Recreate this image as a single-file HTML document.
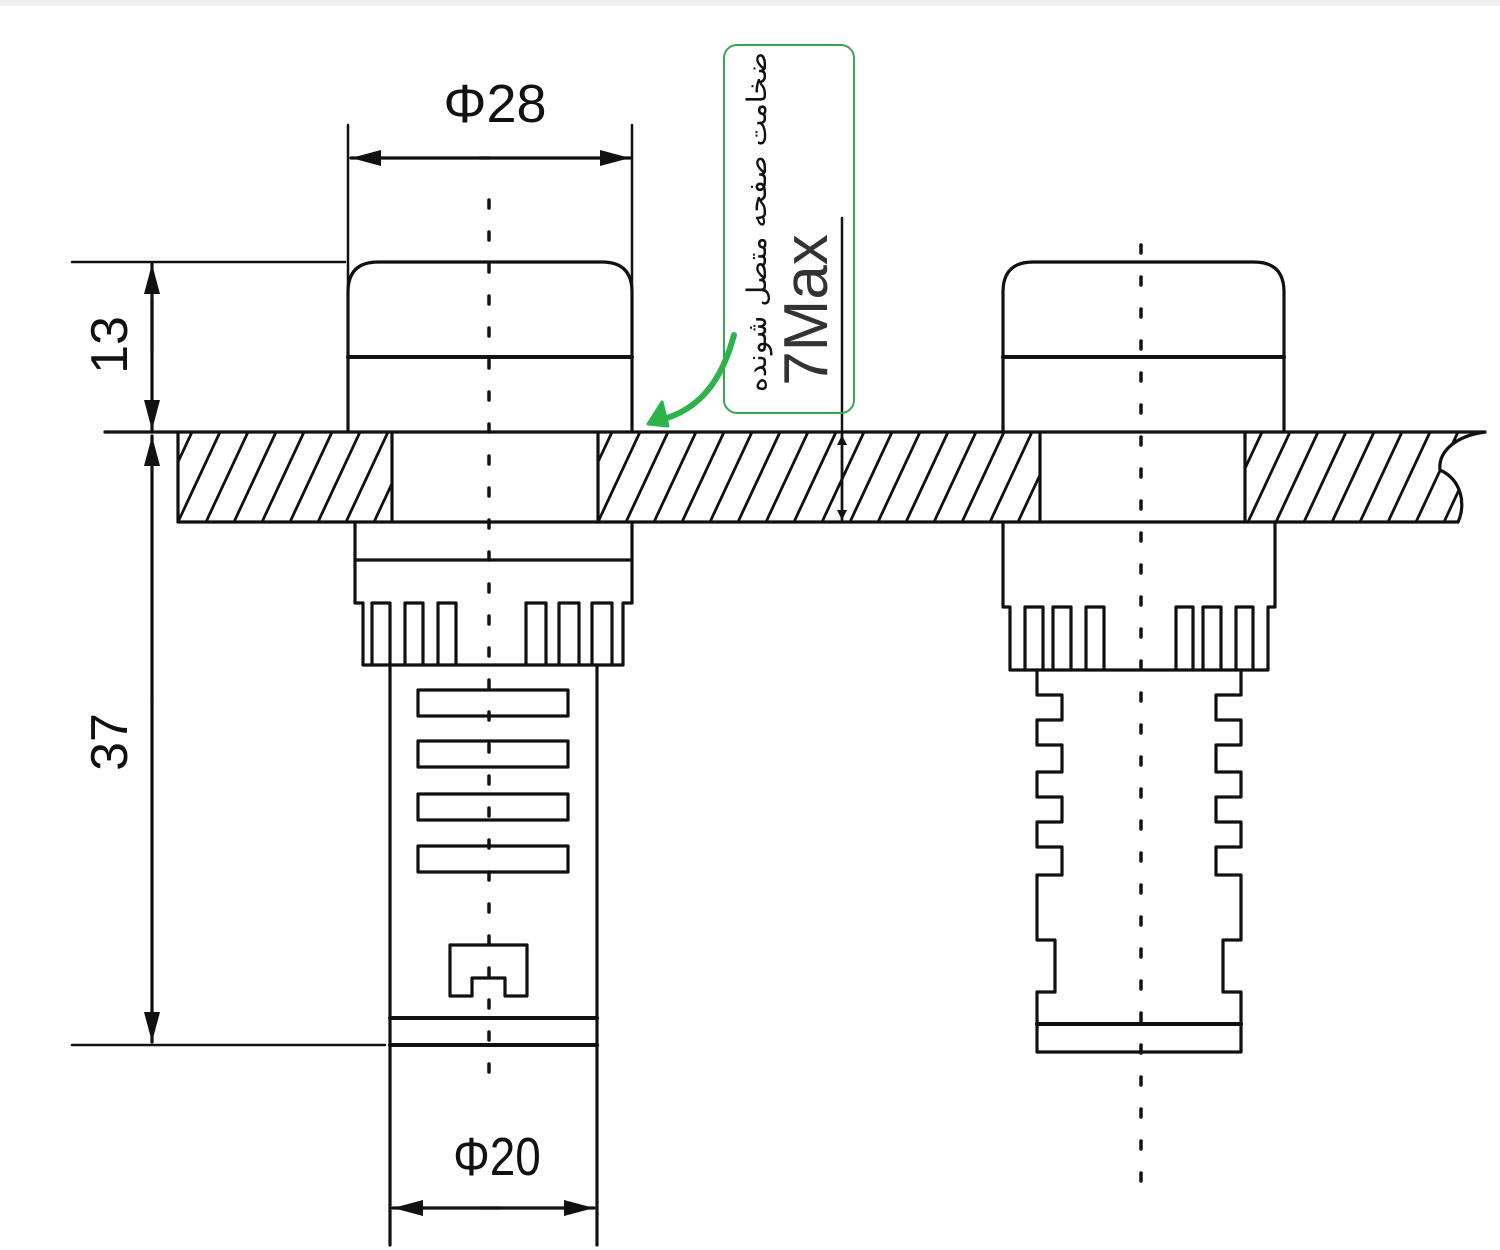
<!DOCTYPE html>
<html><head><meta charset="utf-8">
<style>
html,body{margin:0;padding:0;background:#fff;}
svg{display:block;}
</style></head>
<body>
<svg width="1500" height="1250" viewBox="0 0 1500 1250" xmlns="http://www.w3.org/2000/svg">
<defs>
<marker id="ah" viewBox="0 0 30 16" refX="30" refY="8" markerWidth="30" markerHeight="16" markerUnits="userSpaceOnUse" orient="auto">
<path d="M0,0 L30,8 L0,16 Z" fill="#111"/>
</marker>
<marker id="ahs" viewBox="0 0 10 10" refX="10" refY="5" markerWidth="14" markerHeight="10" markerUnits="userSpaceOnUse" orient="auto">
<path d="M0,0 L10,5 L0,10 Z" fill="#111"/>
</marker>
<clipPath id="hc">
<rect x="178" y="432" width="214" height="90"/>
<rect x="598" y="432" width="442" height="90"/>
<path d="M1245,432 L1485,432 C1455,436 1438,452 1440,470 C1462,480 1466,505 1458,522 L1245,522 Z"/>
</clipPath>
</defs>
<rect x="0" y="0" width="1500" height="6" fill="#f0f0f0"/>
<g stroke="#111" stroke-width="3.2" fill="none" stroke-linecap="round" stroke-linejoin="round">
<g clip-path="url(#hc)" stroke-width="2.8">
<line x1="150" y1="522" x2="192" y2="432"/><line x1="178" y1="522" x2="220" y2="432"/><line x1="206" y1="522" x2="248" y2="432"/><line x1="234" y1="522" x2="276" y2="432"/><line x1="262" y1="522" x2="304" y2="432"/><line x1="290" y1="522" x2="332" y2="432"/><line x1="318" y1="522" x2="360" y2="432"/><line x1="346" y1="522" x2="388" y2="432"/><line x1="374" y1="522" x2="416" y2="432"/>
<line x1="570" y1="522" x2="612" y2="432"/><line x1="598" y1="522" x2="640" y2="432"/><line x1="626" y1="522" x2="668" y2="432"/><line x1="654" y1="522" x2="696" y2="432"/><line x1="682" y1="522" x2="724" y2="432"/><line x1="710" y1="522" x2="752" y2="432"/><line x1="738" y1="522" x2="780" y2="432"/><line x1="766" y1="522" x2="808" y2="432"/><line x1="794" y1="522" x2="836" y2="432"/><line x1="822" y1="522" x2="864" y2="432"/><line x1="850" y1="522" x2="892" y2="432"/><line x1="878" y1="522" x2="920" y2="432"/><line x1="906" y1="522" x2="948" y2="432"/><line x1="934" y1="522" x2="976" y2="432"/><line x1="962" y1="522" x2="1004" y2="432"/><line x1="990" y1="522" x2="1032" y2="432"/><line x1="1018" y1="522" x2="1060" y2="432"/>
<line x1="1220" y1="522" x2="1262" y2="432"/><line x1="1248" y1="522" x2="1290" y2="432"/><line x1="1276" y1="522" x2="1318" y2="432"/><line x1="1304" y1="522" x2="1346" y2="432"/><line x1="1332" y1="522" x2="1374" y2="432"/><line x1="1360" y1="522" x2="1402" y2="432"/><line x1="1388" y1="522" x2="1430" y2="432"/><line x1="1416" y1="522" x2="1458" y2="432"/><line x1="1444" y1="522" x2="1486" y2="432"/>
</g>
<line x1="105" y1="432" x2="1485" y2="432"/>
<line x1="178" y1="522" x2="1458" y2="522"/>
<line x1="178" y1="432" x2="178" y2="522"/>
<path d="M1485,432 C1455,436 1438,452 1440,470 C1462,480 1466,505 1458,522"/>
<line x1="392" y1="432" x2="392" y2="522"/><line x1="598" y1="432" x2="598" y2="522"/>
<line x1="1040" y1="432" x2="1040" y2="522"/><line x1="1245" y1="432" x2="1245" y2="522"/>

<path d="M348,432 L348,292 Q348,262 378,262 L602,262 Q632,262 632,292 L632,432"/>
<line x1="348" y1="357" x2="632" y2="357" stroke-width="4"/>
<path d="M355,522 L355,603 L363,603 L363,665 L623,665 L623,603 L632,603 L632,522"/>
<line x1="355" y1="560" x2="632" y2="560"/>
<path d="M372,665 L372,603 L390,603 L390,665 M405,665 L405,603 L423,603 L423,665 M438,665 L438,603 L456,603 L456,665 M526,665 L526,603 L546,603 L546,665 M559,665 L559,603 L579,603 L579,665 M592,665 L592,603 L612,603 L612,665"/>
<line x1="390" y1="665" x2="390" y2="1245"/><line x1="597" y1="665" x2="597" y2="1245"/>
<rect x="418" y="690" width="150" height="26"/>
<rect x="418" y="741" width="150" height="26"/>
<rect x="418" y="794" width="150" height="26"/>
<rect x="418" y="846" width="150" height="26"/>
<path d="M450,996 L450,945 L527,945 L527,996 L505,996 L505,978 L472,978 L472,996 Z"/>
<line x1="390" y1="1018" x2="597" y2="1018" stroke-width="4"/>
<line x1="390" y1="1045" x2="597" y2="1045" stroke-width="4"/>

<path d="M1003,432 L1003,292 Q1003,262 1033,262 L1254,262 Q1284,262 1284,292 L1284,432"/>
<line x1="1003" y1="357" x2="1284" y2="357" stroke-width="4"/>
<path d="M1003,522 L1003,607 L1010,607 L1010,670 L1268,670 L1268,607 L1275,607 L1275,522"/>
<path d="M1025,670 L1025,607 L1043,607 L1043,670 M1053,670 L1053,607 L1071,607 L1071,670 M1086,670 L1086,607 L1104,607 L1104,670 M1176,670 L1176,607 L1193,607 L1193,670 M1203,670 L1203,607 L1221,607 L1221,670 M1236,670 L1236,607 L1253,607 L1253,670"/>
<path d="M1037,670 L1037,695 L1062,695 L1062,720 L1037,720 L1037,745 L1062,745 L1062,772 L1037,772 L1037,797 L1062,797 L1062,822 L1037,822 L1037,847 L1062,847 L1062,875 L1037,875 L1037,940 L1055,940 L1055,992 L1037,992 L1037,1052 L1241,1052 L1241,992 L1223,992 L1223,940 L1241,940 L1241,875 L1216,875 L1216,847 L1241,847 L1241,822 L1216,822 L1216,797 L1241,797 L1241,772 L1216,772 L1216,745 L1241,745 L1241,720 L1216,720 L1216,695 L1241,695 L1241,670"/>
<line x1="1037" y1="1024" x2="1241" y2="1024" stroke-width="4"/>

<line x1="348" y1="125" x2="348" y2="292" stroke-width="2.5"/>
<line x1="632" y1="125" x2="632" y2="292" stroke-width="2.5"/>
<line x1="490" y1="158" x2="351" y2="158" marker-end="url(#ah)" stroke-width="3.2"/>
<line x1="480" y1="158" x2="630" y2="158" marker-end="url(#ah)" stroke-width="3.2"/>
<line x1="72" y1="262" x2="345" y2="262" stroke-width="2.5"/>
<line x1="72" y1="1045" x2="385" y2="1045" stroke-width="2.5"/>
<line x1="152" y1="350" x2="152" y2="264" marker-end="url(#ah)"/>
<line x1="152" y1="300" x2="152" y2="430" marker-end="url(#ah)"/>
<line x1="152" y1="700" x2="152" y2="436" marker-end="url(#ah)"/>
<line x1="152" y1="700" x2="152" y2="1042" marker-end="url(#ah)"/>
<line x1="500" y1="1208" x2="393" y2="1208" marker-end="url(#ah)"/>
<line x1="480" y1="1208" x2="594" y2="1208" marker-end="url(#ah)"/>
<line x1="842" y1="218" x2="842" y2="522" stroke-width="2.5"/>
<line x1="842" y1="480" x2="842" y2="435" marker-end="url(#ahs)" stroke-width="2.5"/>
<line x1="842" y1="475" x2="842" y2="520" marker-end="url(#ahs)" stroke-width="2.5"/>
</g>
<g stroke="#111" stroke-width="3.5" stroke-dasharray="8 24" stroke-linecap="round">
<line x1="489" y1="200" x2="489" y2="1095"/>
<line x1="1141" y1="245" x2="1141" y2="1200"/>
</g>
<g font-family="Liberation Sans, DejaVu Sans, sans-serif" fill="#111">
<text x="495" y="122" font-size="54" text-anchor="middle">Φ28</text>
<text x="497" y="1175" font-size="54" text-anchor="middle" transform="translate(497 0) scale(0.85 1) translate(-497 0)">Φ20</text>
<text transform="translate(127 345) rotate(-90)" font-size="52" text-anchor="middle">13</text>
<text transform="translate(127 742) rotate(-90)" font-size="52" text-anchor="middle">37</text>
<text transform="translate(827 310) rotate(-90)" font-size="62" text-anchor="middle" fill="#333">7Max</text>
<text transform="translate(766 222) rotate(-90)" font-size="27" text-anchor="middle" textLength="340" lengthAdjust="spacingAndGlyphs" font-family="DejaVu Sans, Noto Sans CJK SC, sans-serif">ضخامت صفحه متصل شونده</text>
</g>
<rect x="724" y="45" width="130" height="368" rx="13" fill="none" stroke="#3aa655" stroke-width="2"/>
<path d="M734,335 C722,380 700,410 660,420" fill="none" stroke="#2db34a" stroke-width="6" stroke-linecap="round"/>
<path d="M648,424 L662,402 L668,426 Z" fill="#2db34a" stroke="#2db34a" stroke-width="3" stroke-linejoin="round"/>
</svg>
</body></html>
